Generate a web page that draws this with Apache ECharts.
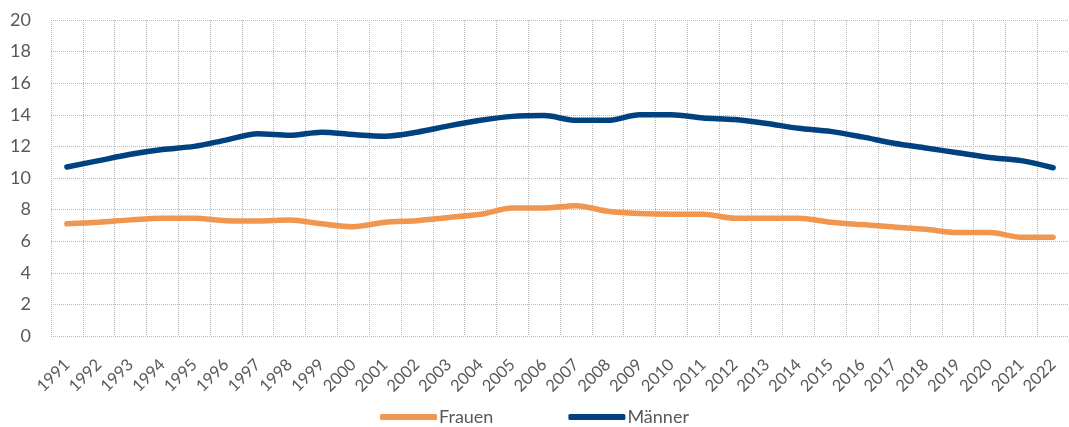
<html>
<head>
    <meta charset="utf-8" />
    <script src="https://cdn.jsdelivr.net/npm/echarts@6/dist/echarts.min.js"></script>
    <style>
        html, body { margin: 0; padding: 0; background: #fff; }
        #chart { width: 1069px; height: 427px; }
    </style>
</head>
<body>
    <div id="chart"></div>
    <script>
        var years = ['1991', '1992', '1993', '1994', '1995', '1996', '1997', '1998', '1999', '2000',
            '2001', '2002', '2003', '2004', '2005', '2006', '2007', '2008', '2009', '2010',
            '2011', '2012', '2013', '2014', '2015', '2016', '2017', '2018', '2019', '2020',
            '2021', '2022'];
        var frauen = [7.1, 7.2, 7.35, 7.45, 7.45, 7.3, 7.28, 7.34, 7.1, 6.92,
            7.2, 7.3, 7.5, 7.7, 8.1, 8.1, 8.25, 7.9, 7.75, 7.7,
            7.7, 7.45, 7.45, 7.45, 7.2, 7.05, 6.9, 6.75, 6.55, 6.55,
            6.25, 6.25];
        var maenner = [10.7, 11.1, 11.5, 11.8, 12.0, 12.4, 12.8, 12.7, 12.9, 12.75,
            12.65, 12.9, 13.3, 13.65, 13.9, 13.95, 13.65, 13.65, 14.0, 14.0,
            13.8, 13.7, 13.45, 13.15, 12.95, 12.6, 12.2, 11.9, 11.6, 11.3,
            11.1, 10.65];
        var yTicks = { min: 0, max: 20, interval: 2 };

        var gridLine = { color: '#b8b8b8', width: 1, type: [1, 1] };
        var font = 'Lato, "Open Sans", sans-serif';

        var chart = echarts.init(document.getElementById('chart'));
        chart.setOption({
            animation: false,
            grid: { left: 51, top: 20, bottom: 91, width: 1026 },
            legend: {
                top: 403,
                left: 'center',
                itemWidth: 57,
                itemHeight: 6,
                itemGap: 75,
                icon: 'roundRect',
                textStyle: { fontFamily: font, fontSize: 18, color: '#595959', padding: [0, 0, 0, -3] },
                data: ['Frauen', 'Männer']
            },
            xAxis: {
                type: 'category',
                data: years,
                boundaryGap: true,
                axisLine: { show: false },
                axisTick: { show: false },
                splitLine: { show: true, lineStyle: gridLine },
                axisLabel: {
                    rotate: 45,
                    interval: 0,
                    margin: 26,
                    fontFamily: font,
                    fontSize: 16.5,
                    color: '#595959'
                }
            },
            yAxis: {
                type: 'value',
                min: yTicks.min,
                max: yTicks.max,
                interval: yTicks.interval,
                axisLine: { show: false },
                axisTick: { show: false },
                splitLine: { show: true, lineStyle: gridLine },
                axisLabel: {
                    margin: 20,
                    fontFamily: font,
                    fontSize: 18,
                    color: '#595959'
                }
            },
            series: [
                {
                    name: 'Frauen',
                    type: 'line',
                    data: frauen,
                    smooth: 0.3,
                    symbol: 'none',
                    color: '#F0964F',
                    lineStyle: { width: 5.5, cap: 'round' }
                },
                {
                    name: 'Männer',
                    type: 'line',
                    data: maenner,
                    smooth: 0.3,
                    symbol: 'none',
                    color: '#00427F',
                    lineStyle: { width: 5.5, cap: 'round' }
                }
            ]
        });
    </script>
</body>
</html>
